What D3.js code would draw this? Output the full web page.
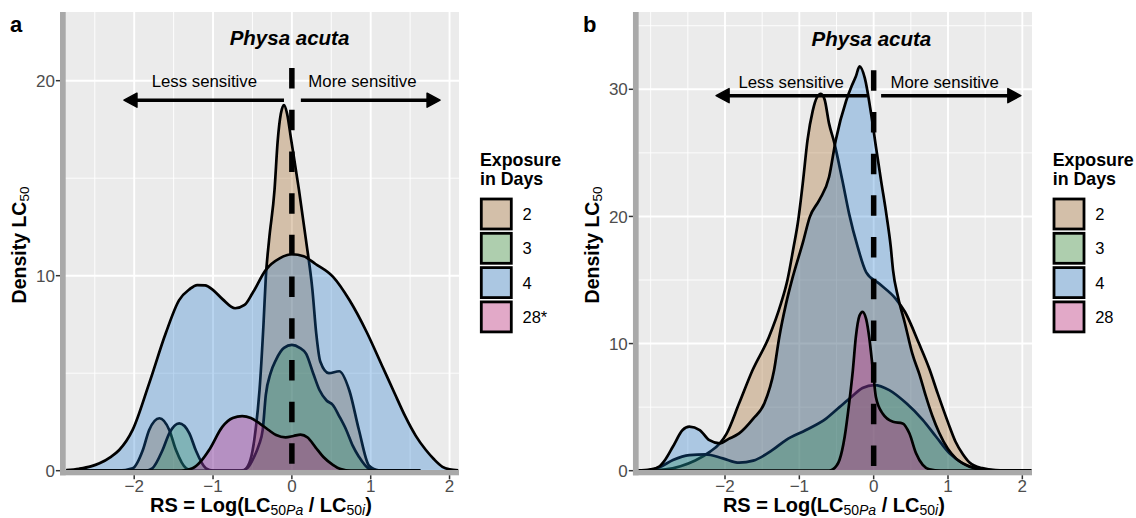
<!DOCTYPE html>
<html><head><meta charset="utf-8">
<script src="https://cdn.jsdelivr.net/npm/d3@7"></script>
<style>body{margin:0;background:#fff;} svg{display:block;font-family:"Liberation Sans",Arial,Helvetica,sans-serif;}</style>
</head><body><svg id="chart" width="1136" height="518"></svg>
<script>
// ---------- data ----------
const seriesNames = ["2", "3", "4", "28"];
const legendLabelsA = ["2", "3", "4", "28*"];
const legendLabelsB = ["2", "3", "4", "28"];
const xTicks = [-2, -1, 0, 1, 2];
const yTicksA = [0, 10, 20];
const yTicksB = [0, 10, 20, 30];

// Panel a densities (x = RS, y = density)
const aX2 = [-2.86, -2.2, -2.02, -1.89, -1.81, -1.68, -1.555, -1.47, -1.34, -1.25, -0.9, -0.62, -0.55, -0.5, -0.46, -0.41, -0.36, -0.33, -0.29, -0.22, -0.18, -0.14, -0.1, -0.06, -0.01, 0.09, 0.18, 0.26, 0.31, 0.36, 0.47, 0.6, 0.73, 0.85, 0.98, 1.1, 1.63];
const aY2 = [0, 0, 0.12, 1.06, 2.09, 2.69, 2.09, 1.06, 0.12, 0, 0, 0, 0.3, 1.0, 2.09, 4.14, 7.5, 9.95, 11.8, 14.4, 16.9, 18.3, 18.75, 18.3, 17.0, 14.4, 11.8, 9.3, 7.0, 5.6, 5.0, 5.1, 4.1, 2.1, 0.25, 0.02, 0];
const aX3 = [-2.86, -1.85, -1.77, -1.64, -1.555, -1.43, -1.30, -1.22, -1.09, -1.0, -0.65, -0.56, -0.48, -0.42, -0.37, -0.33, -0.27, -0.2, -0.1, 0, 0.1, 0.18, 0.27, 0.35, 0.44, 0.52, 0.6, 0.69, 0.77, 0.85, 0.98, 1.1, 1.63];
const aY3 = [0, 0, 0.12, 1.06, 1.92, 2.43, 1.92, 1.06, 0.12, 0, 0, 0.15, 0.7, 1.3, 2.09, 3.9, 5.0, 5.7, 6.3, 6.45, 6.3, 6.0, 5.0, 4.14, 3.6, 3.37, 2.8, 2.09, 1.3, 0.72, 0.1, 0, 0];
const aX4 = [-2.86, -2.7, -2.55, -2.44, -2.3, -2.19, -2.02, -1.81, -1.6, -1.43, -1.3, -1.2, -1.1, -1.01, -0.88, -0.72, -0.6, -0.5, -0.33, -0.15, 0, 0.15, 0.3, 0.52, 0.73, 0.95, 1.15, 1.3, 1.44, 1.57, 1.7, 1.8, 1.91, 2.0, 2.11];
const aY4 = [0.03, 0.1, 0.22, 0.38, 0.7, 1.06, 2.09, 4.48, 7.05, 8.75, 9.3, 9.52, 9.5, 9.3, 8.8, 8.33, 8.5, 9.1, 10.3, 10.9, 11.1, 11.0, 10.6, 9.95, 8.75, 7.1, 5.33, 4.0, 2.77, 1.8, 1.06, 0.6, 0.2, 0.07, 0.02];
const aX28 = [-2.86, -1.4, -1.26, -1.15, -1.05, -0.88, -0.75, -0.63, -0.52, -0.41, -0.3, -0.2, -0.08, 0.02, 0.11, 0.2, 0.3, 0.4, 0.52, 0.62, 0.75, 1.63];
const aY28 = [0, 0, 0.12, 0.5, 1.06, 2.26, 2.7, 2.8, 2.7, 2.43, 2.1, 1.83, 1.71, 1.78, 1.85, 1.7, 1.2, 0.7, 0.3, 0.08, 0, 0];

// Panel b densities
const bX2 = [-3.18, -2.8, -2.6, -2.4, -2.2, -2.07, -1.98, -1.81, -1.63, -1.41, -1.25, -1.16, -1.08, -1.02, -0.95, -0.89, -0.82, -0.76, -0.71, -0.66, -0.6, -0.53, -0.42, -0.33, -0.215, -0.1, 0.077, 0.3, 0.42, 0.61, 0.75, 0.86, 1.0, 1.1, 1.2, 1.29, 1.46, 1.64, 2.12];
const bY2 = [0, 0.1, 0.35, 0.8, 1.5, 2.15, 2.9, 5.3, 7.9, 10.5, 13.1, 15.0, 17.5, 19.5, 22.8, 26.0, 28.3, 29.4, 29.65, 29.2, 27.3, 25.8, 22.8, 20.2, 17.6, 15.6, 14.7, 13.5, 12.5, 10.0, 8.0, 6.1, 3.8, 2.3, 1.3, 0.65, 0.2, 0.05, 0];
const bX3 = [-3.18, -3.0, -2.88, -2.7, -2.48, -2.26, -2.03, -1.81, -1.62, -1.36, -1.18, -0.91, -0.64, -0.46, -0.3, -0.15, 0.01, 0.21, 0.44, 0.66, 0.84, 1.02, 1.2, 1.38, 1.6, 2.12];
const bY3 = [0, 0.05, 0.27, 0.84, 1.23, 1.29, 0.97, 0.63, 0.79, 1.63, 2.41, 3.2, 4.1, 5.0, 5.8, 6.5, 6.73, 6.34, 5.3, 4.0, 2.67, 1.37, 0.58, 0.19, 0.03, 0];
const bX4 = [-3.18, -3.0, -2.88, -2.8, -2.7, -2.57, -2.48, -2.34, -2.21, -2.07, -1.95, -1.81, -1.62, -1.47, -1.34, -1.27, -1.18, -1.09, -0.95, -0.86, -0.73, -0.6, -0.51, -0.37, -0.3, -0.24, -0.19, -0.12, -0.035, 0.03, 0.1, 0.17, 0.23, 0.26, 0.33, 0.42, 0.52, 0.62, 0.70, 0.79, 0.88, 1.0, 1.11, 1.29, 1.5, 2.12];
const bY4 = [0, 0.1, 0.35, 0.9, 1.9, 3.2, 3.46, 3.2, 2.4, 2.15, 2.5, 2.94, 4.1, 5.3, 7.9, 10.5, 13.1, 15.2, 18.0, 19.95, 21.3, 23.1, 26.0, 29.1, 30.2, 31.0, 31.8, 30.9, 28.1, 25.5, 22.8, 20.2, 17.6, 15.8, 13.6, 11.6, 9.2, 7.5, 5.9, 4.3, 3.0, 1.7, 0.95, 0.31, 0.05, 0];
const bX28 = [-3.18, -0.6, -0.55, -0.46, -0.39, -0.33, -0.28, -0.24, -0.19, -0.15, -0.1, -0.06, -0.01, 0.03, 0.12, 0.26, 0.39, 0.48, 0.57, 0.66, 0.75, 0.9, 2.12];
const bY28 = [0, 0, 0.1, 0.84, 2.67, 5.3, 7.9, 10.5, 12.2, 12.5, 11.9, 10.5, 7.9, 5.8, 4.5, 3.85, 3.72, 2.94, 1.37, 0.45, 0.1, 0, 0];

// annotation values (data units)
const dashTopA = 20.65, dashTopB = 31.5;
const arrowA = {y: 19.0, leftFrom: -0.1, leftTo: -2.13, rightFrom: 0.114, rightTo: 1.88, textY: 20.0, lessX: -1.11, moreX: 0.895, titleY: 22.2};
const arrowB = {y: 29.5, leftFrom: -0.09, leftTo: -2.12, rightFrom: 0.1, rightTo: 1.98, textY: 30.6, lessX: -1.11, moreX: 0.955, titleY: 34.0};

// ---------- style ----------
const FILLS = {"2": "#9A5A10", "3": "#228B22", "4": "#1874CD", "28": "#CD1076"};
const ALPHA = 0.3;
const FONT_SMALL = 17;

const svg = d3.select("#chart");
svg.append("rect").attr("width", 1136).attr("height", 518).attr("fill", "#fff");

let clipId = 0;
function drawPanel(cfg) {
  const xs = d3.scaleLinear().domain(cfg.xDomain).range([cfg.left, cfg.right]);
  const ys = d3.scaleLinear().domain([0, cfg.yRef]).range([470.7, cfg.yRefPx]);
  const top = 12, bottom = 472.65;
  const yTopVal = ys.invert(top);
  const g = svg.append("g");

  g.append("rect").attr("x", cfg.left).attr("y", top).attr("width", cfg.right - cfg.left)
    .attr("height", bottom - top).attr("fill", "#EBEBEB");

  const minorX = d3.range(Math.ceil(cfg.xDomain[0] * 2) / 2, cfg.xDomain[1], 0.5).filter(v => !xTicks.includes(v));
  const minorY = d3.range(5, yTopVal, 10);
  g.selectAll(".mx").data(minorX).join("line").attr("x1", d => xs(d)).attr("x2", d => xs(d))
    .attr("y1", top).attr("y2", bottom).attr("stroke", "#fff").attr("stroke-width", 0.9);
  g.selectAll(".my").data(minorY).join("line").attr("y1", d => ys(d)).attr("y2", d => ys(d))
    .attr("x1", cfg.left).attr("x2", cfg.right).attr("stroke", "#fff").attr("stroke-width", 0.9);
  g.selectAll(".Mx").data(xTicks).join("line").attr("x1", d => xs(d)).attr("x2", d => xs(d))
    .attr("y1", top).attr("y2", bottom).attr("stroke", "#fff").attr("stroke-width", 1.9);
  g.selectAll(".My").data(cfg.yTicks).join("line").attr("y1", d => ys(d)).attr("y2", d => ys(d))
    .attr("x1", cfg.left).attr("x2", cfg.right).attr("stroke", "#fff").attr("stroke-width", 1.9);

  const cid = "clip" + (clipId++);
  svg.append("clipPath").attr("id", cid).append("rect").attr("x", cfg.left).attr("y", top)
    .attr("width", cfg.right - cfg.left).attr("height", bottom - top);
  const dg = g.append("g").attr("clip-path", `url(#${cid})`);

  const area = d3.area().x(d => xs(d[0])).y0(ys(0)).y1(d => ys(d[1])).curve(d3.curveMonotoneX);
  const line = d3.line().x(d => xs(d[0])).y(d => ys(d[1])).curve(d3.curveMonotoneX);
  seriesNames.forEach((s, i) => {
    const pts = d3.zip(cfg.xs[i], cfg.ys[i]);
    dg.append("path").attr("d", area(pts)).attr("fill", FILLS[s]).attr("fill-opacity", ALPHA);
    dg.append("path").attr("d", line(pts)).attr("fill", "none").attr("stroke", "#000")
      .attr("stroke-width", 2.7).attr("stroke-linejoin", "round");
  });

  // dashed vertical line at 0
  g.append("line").attr("x1", xs(0)).attr("x2", xs(0)).attr("y1", ys(cfg.dashTop)).attr("y2", ys(0))
    .attr("stroke", "#000").attr("stroke-width", 5.5).attr("stroke-dasharray", "20.5,21.2");

  // arrows
  const A = cfg.arrow;
  function arrow(x1, x2) {
    const px1 = xs(x1), px2 = xs(x2), py = ys(A.y);
    const dir = Math.sign(px2 - px1), L = 13, H = 7;
    g.append("line").attr("x1", px1).attr("x2", px2 - dir * L * 0.6).attr("y1", py).attr("y2", py)
      .attr("stroke", "#000").attr("stroke-width", 3.5);
    g.append("path").attr("d", `M${px2},${py} L${px2 - dir * L},${py - H} L${px2 - dir * L},${py + H} Z`)
      .attr("fill", "#000").attr("stroke", "#000").attr("stroke-width", 1.5).attr("stroke-linejoin", "round");
  }
  arrow(A.leftFrom, A.leftTo);
  arrow(A.rightFrom, A.rightTo);
  g.append("text").attr("x", xs(A.lessX)).attr("y", ys(A.textY)).attr("dy", "0.36em")
    .attr("text-anchor", "middle").attr("font-size", 16.8).attr("fill", "#000").text("Less sensitive");
  g.append("text").attr("x", xs(A.moreX)).attr("y", ys(A.textY)).attr("dy", "0.36em")
    .attr("text-anchor", "middle").attr("font-size", 16.8).attr("fill", "#000").text("More sensitive");
  g.append("text").attr("x", xs(-0.03)).attr("y", ys(A.titleY)).attr("dy", "0.36em")
    .attr("text-anchor", "middle").attr("font-size", 20.5).attr("font-weight", "bold")
    .attr("font-style", "italic").attr("fill", "#000").text("Physa acuta");

  // axis bars
  g.append("rect").attr("x", cfg.left - 2.85).attr("y", top).attr("width", 5.7).attr("height", bottom + 2.65 - top)
    .attr("fill", "#A9A9A9");
  g.append("rect").attr("x", cfg.left - 2.85).attr("y", 470).attr("width", cfg.right - cfg.left + 2.85).attr("height", 5.3)
    .attr("fill", "#A9A9A9");

  // ticks
  g.selectAll(".yt").data(cfg.yTicks).join("line").attr("x1", cfg.left - 7).attr("x2", cfg.left - 2.85)
    .attr("y1", d => ys(d)).attr("y2", d => ys(d)).attr("stroke", "#333").attr("stroke-width", 1.5);
  g.selectAll(".ytl").data(cfg.yTicks).join("text").attr("x", cfg.left - 8).attr("y", d => ys(d))
    .attr("dy", "0.36em").attr("text-anchor", "end").attr("font-size", FONT_SMALL).attr("fill", "#4D4D4D")
    .text(d => d);
  g.selectAll(".xt").data(xTicks).join("line").attr("x1", d => xs(d)).attr("x2", d => xs(d))
    .attr("y1", 475.3).attr("y2", 479.3).attr("stroke", "#333").attr("stroke-width", 1.5);
  g.selectAll(".xtl").data(xTicks).join("text").attr("x", d => xs(d)).attr("y", 491.5)
    .attr("text-anchor", "middle").attr("font-size", FONT_SMALL).attr("fill", "#4D4D4D")
    .text(d => (d < 0 ? "\u2212" + Math.abs(d) : d));

  // x title
  const cx = (cfg.left + cfg.right) / 2;
  const xt = g.append("text").attr("x", cx).attr("y", 511.5).attr("text-anchor", "middle")
    .attr("font-size", 20).attr("font-weight", "bold").attr("fill", "#000");
  xt.append("tspan").text("RS = Log(LC");
  xt.append("tspan").attr("font-size", 14).attr("dy", 3.5).attr("font-weight", "normal").text("50");
  xt.append("tspan").attr("font-size", 14).attr("font-weight", "normal").attr("font-style", "italic").text("Pa");
  xt.append("tspan").attr("dy", -3.5).text(" / LC");
  xt.append("tspan").attr("font-size", 14).attr("dy", 3.5).attr("font-weight", "normal").text("50");
  xt.append("tspan").attr("font-size", 14).attr("font-weight", "normal").attr("font-style", "italic").text("i");
  xt.append("tspan").attr("dy", -3.5).text(")");

  // y title
  const yt = g.append("text").attr("transform", `translate(${cfg.left - 37},245) rotate(-90)`)
    .attr("text-anchor", "middle").attr("font-size", 19.5).attr("font-weight", "bold").attr("fill", "#000");
  yt.append("tspan").text("Density LC");
  yt.append("tspan").attr("font-size", 13.5).attr("dy", 3.5).attr("font-weight", "normal").text("50");

  // tag
  g.append("text").attr("x", cfg.tagX).attr("y", 32).attr("font-size", 22).attr("font-weight", "bold")
    .attr("fill", "#000").text(cfg.tag);

  // legend
  const lx = cfg.legendX;
  g.append("text").attr("x", lx).attr("y", 165.5).attr("font-size", 17.8).attr("font-weight", "bold").text("Exposure");
  g.append("text").attr("x", lx).attr("y", 185).attr("font-size", 17.8).attr("font-weight", "bold").text("in Days");
  seriesNames.forEach((s, i) => {
    const ky = 199 + i * 34.3;
    g.append("rect").attr("x", lx + 1.3).attr("y", ky).attr("width", 30).attr("height", 30).attr("fill", "#EBEBEB");
    g.append("rect").attr("x", lx + 1.3).attr("y", ky).attr("width", 30).attr("height", 30)
      .attr("fill", FILLS[s]).attr("fill-opacity", ALPHA).attr("stroke", "#000").attr("stroke-width", 2.8);
    g.append("text").attr("x", lx + 42.5).attr("y", ky + 15).attr("dy", "0.36em")
      .attr("font-size", 16.5).attr("fill", "#000").text(cfg.legendLabels[i]);
  });
}

drawPanel({
  left: 62.85, right: 459, xDomain: [-2.905, 2.12], yRef: 20, yRefPx: 80.7, yTicks: yTicksA,
  xs: [aX2, aX3, aX4, aX28], ys: [aY2, aY3, aY4, aY28], dashTop: dashTopA, arrow: arrowA,
  tag: "a", tagX: 10, legendX: 480, legendLabels: legendLabelsA
});
drawPanel({
  left: 635.8, right: 1032, xDomain: [-3.2, 2.13], yRef: 30, yRefPx: 89.3, yTicks: yTicksB,
  xs: [bX2, bX3, bX4, bX28], ys: [bY2, bY3, bY4, bY28], dashTop: dashTopB, arrow: arrowB,
  tag: "b", tagX: 583, legendX: 1052.7, legendLabels: legendLabelsB
});
</script>
</body></html>
